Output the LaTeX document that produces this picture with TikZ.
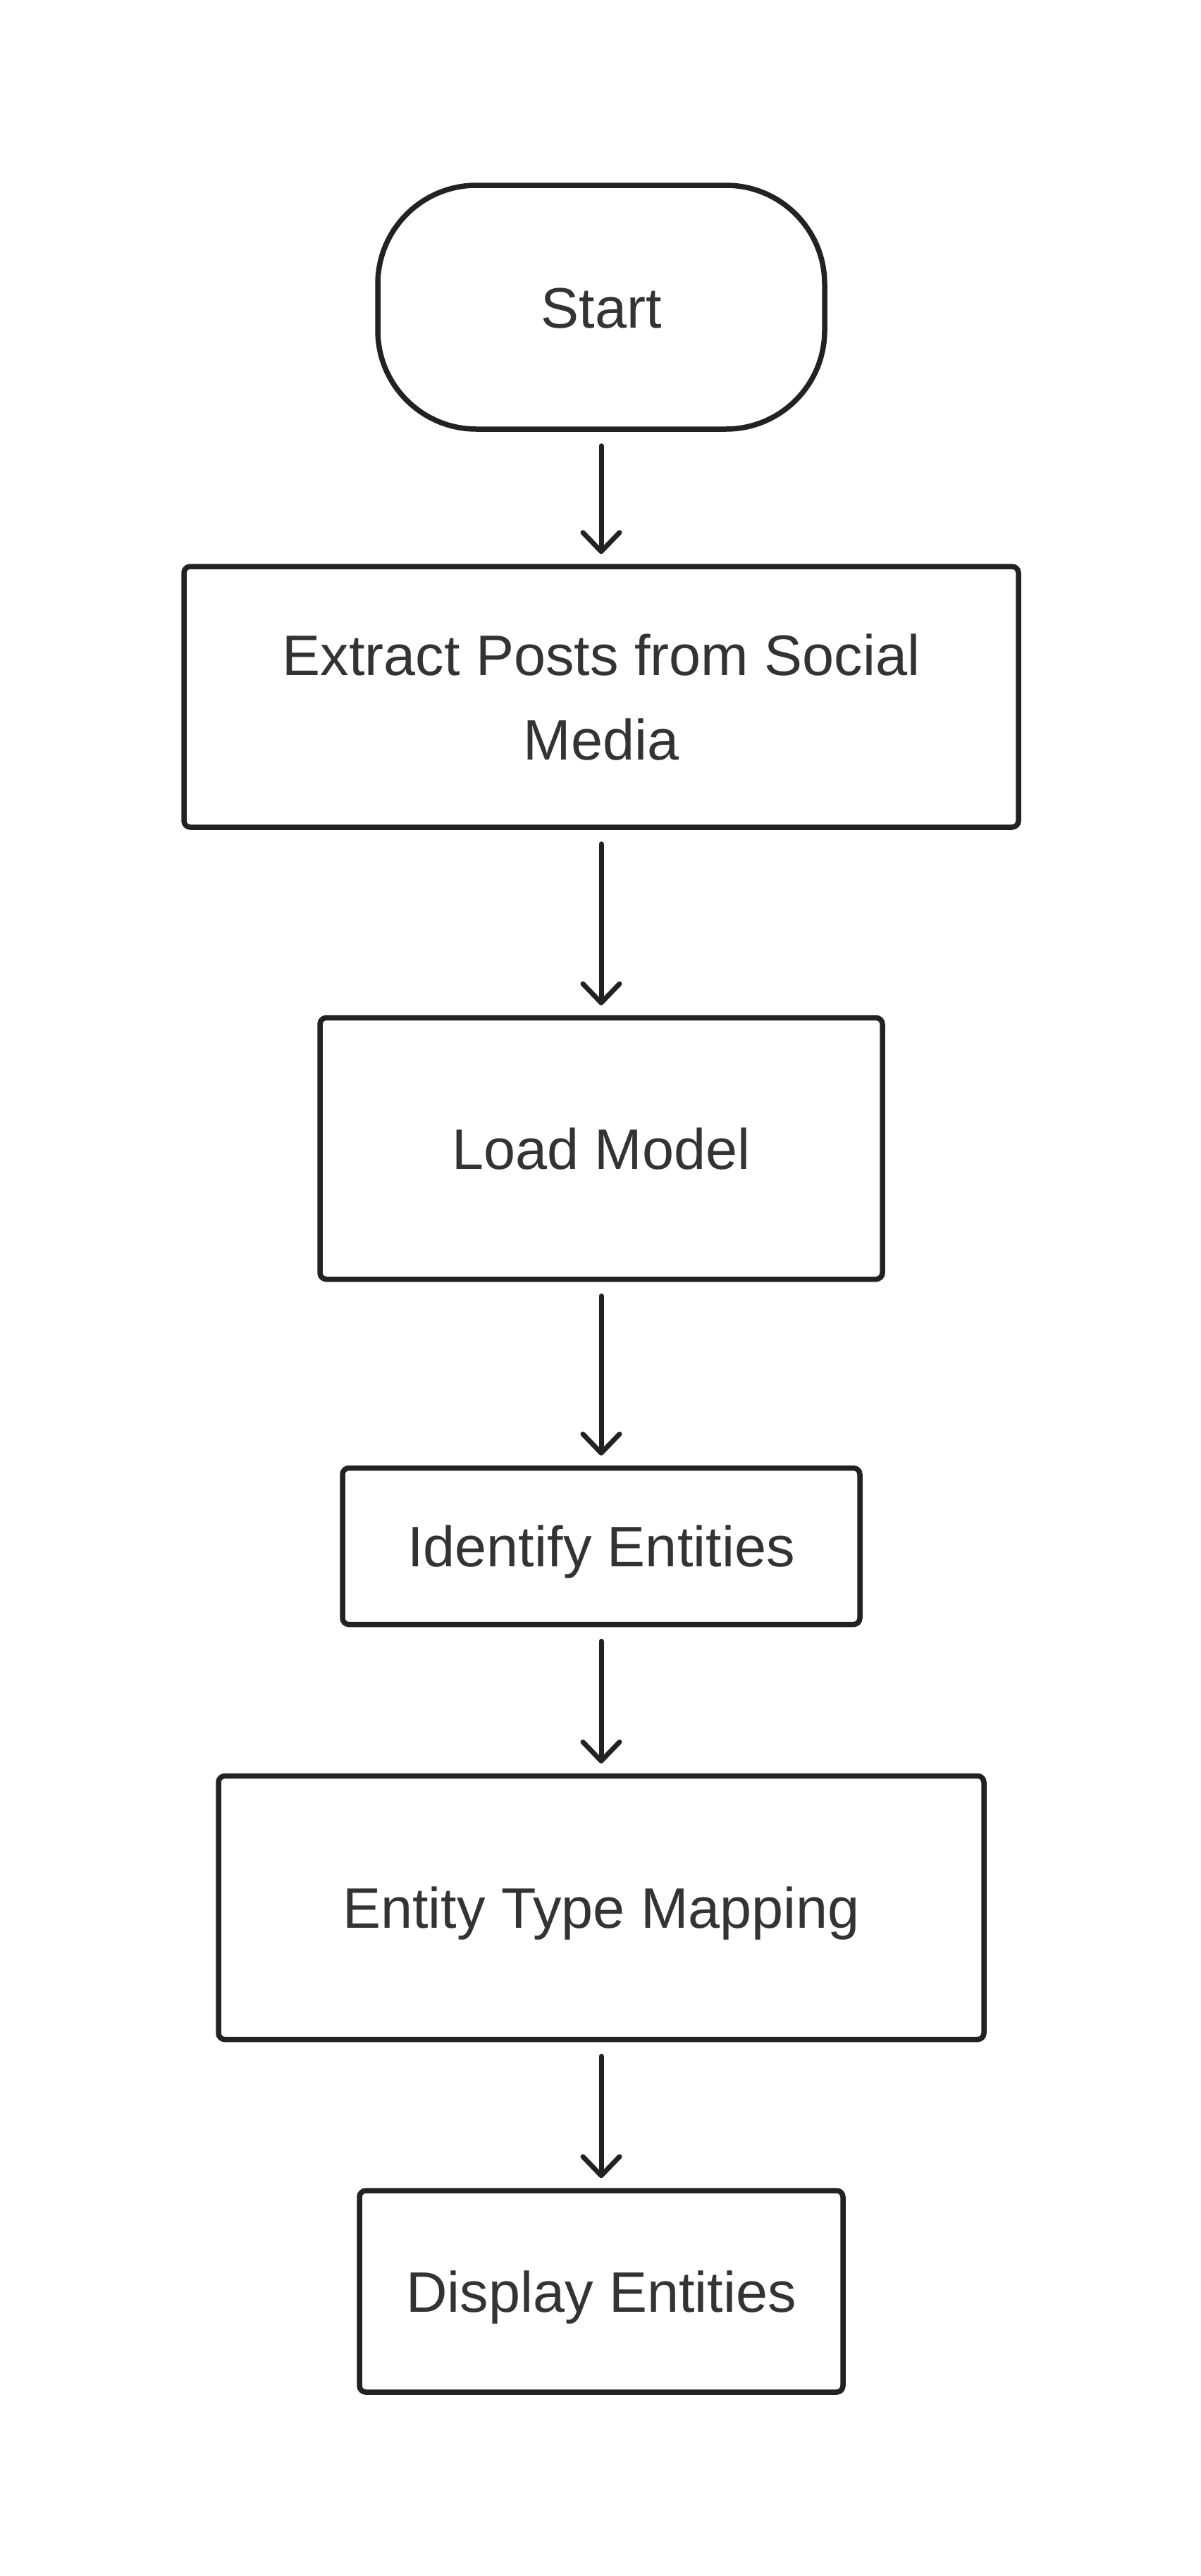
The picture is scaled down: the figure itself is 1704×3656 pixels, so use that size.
\documentclass[tikz,border=0pt]{standalone}
\usepackage{fontspec}
\setmainfont{Liberation Sans}
\usetikzlibrary{arrows.meta}
\definecolor{linec}{HTML}{222222}
\definecolor{textc}{HTML}{333333}
\begin{document}
\begin{tikzpicture}[x=1pt,y=-1pt,
  box/.style={draw=linec, line width=7.5pt, rounded corners=9pt, inner sep=0pt,
    text=textc, font=\fontsize{81}{120}\selectfont, text height=58pt, text depth=0pt, align=center},
  flow/.style={draw=linec, line width=7pt, line cap=round,
    -{Straight Barb[length=27pt,width=52pt,round]}, shorten <=20pt, shorten >=14pt}]
\fill[white] (0,0) rectangle (1704,3656);
\useasboundingbox (0,0) rectangle (1704,3656);
\node[box, rounded corners=140pt, minimum width=634pt, minimum height=346pt] (start) at (853,436) {Start};
\node[box, minimum width=1184pt, minimum height=370pt, text height=178pt] (extract) at (853,989) {Extract Posts from Social\\Media};
\node[box, minimum width=798pt, minimum height=371pt] (load) at (853,1630) {Load Model};
\node[box, minimum width=734pt, minimum height=222pt] (identify) at (853,2194.5) {Identify Entities};
\node[box, minimum width=1086pt, minimum height=374pt] (mapping) at (853,2707.5) {Entity Type Mapping};
\node[box, minimum width=686pt, minimum height=286pt] (display) at (853,3252) {Display Entities};
\draw[flow] (start) -- (extract);
\draw[flow] (extract) -- (load);
\draw[flow] (load) -- (identify);
\draw[flow] (identify) -- (mapping);
\draw[flow] (mapping) -- (display);
\end{tikzpicture}
\end{document}
